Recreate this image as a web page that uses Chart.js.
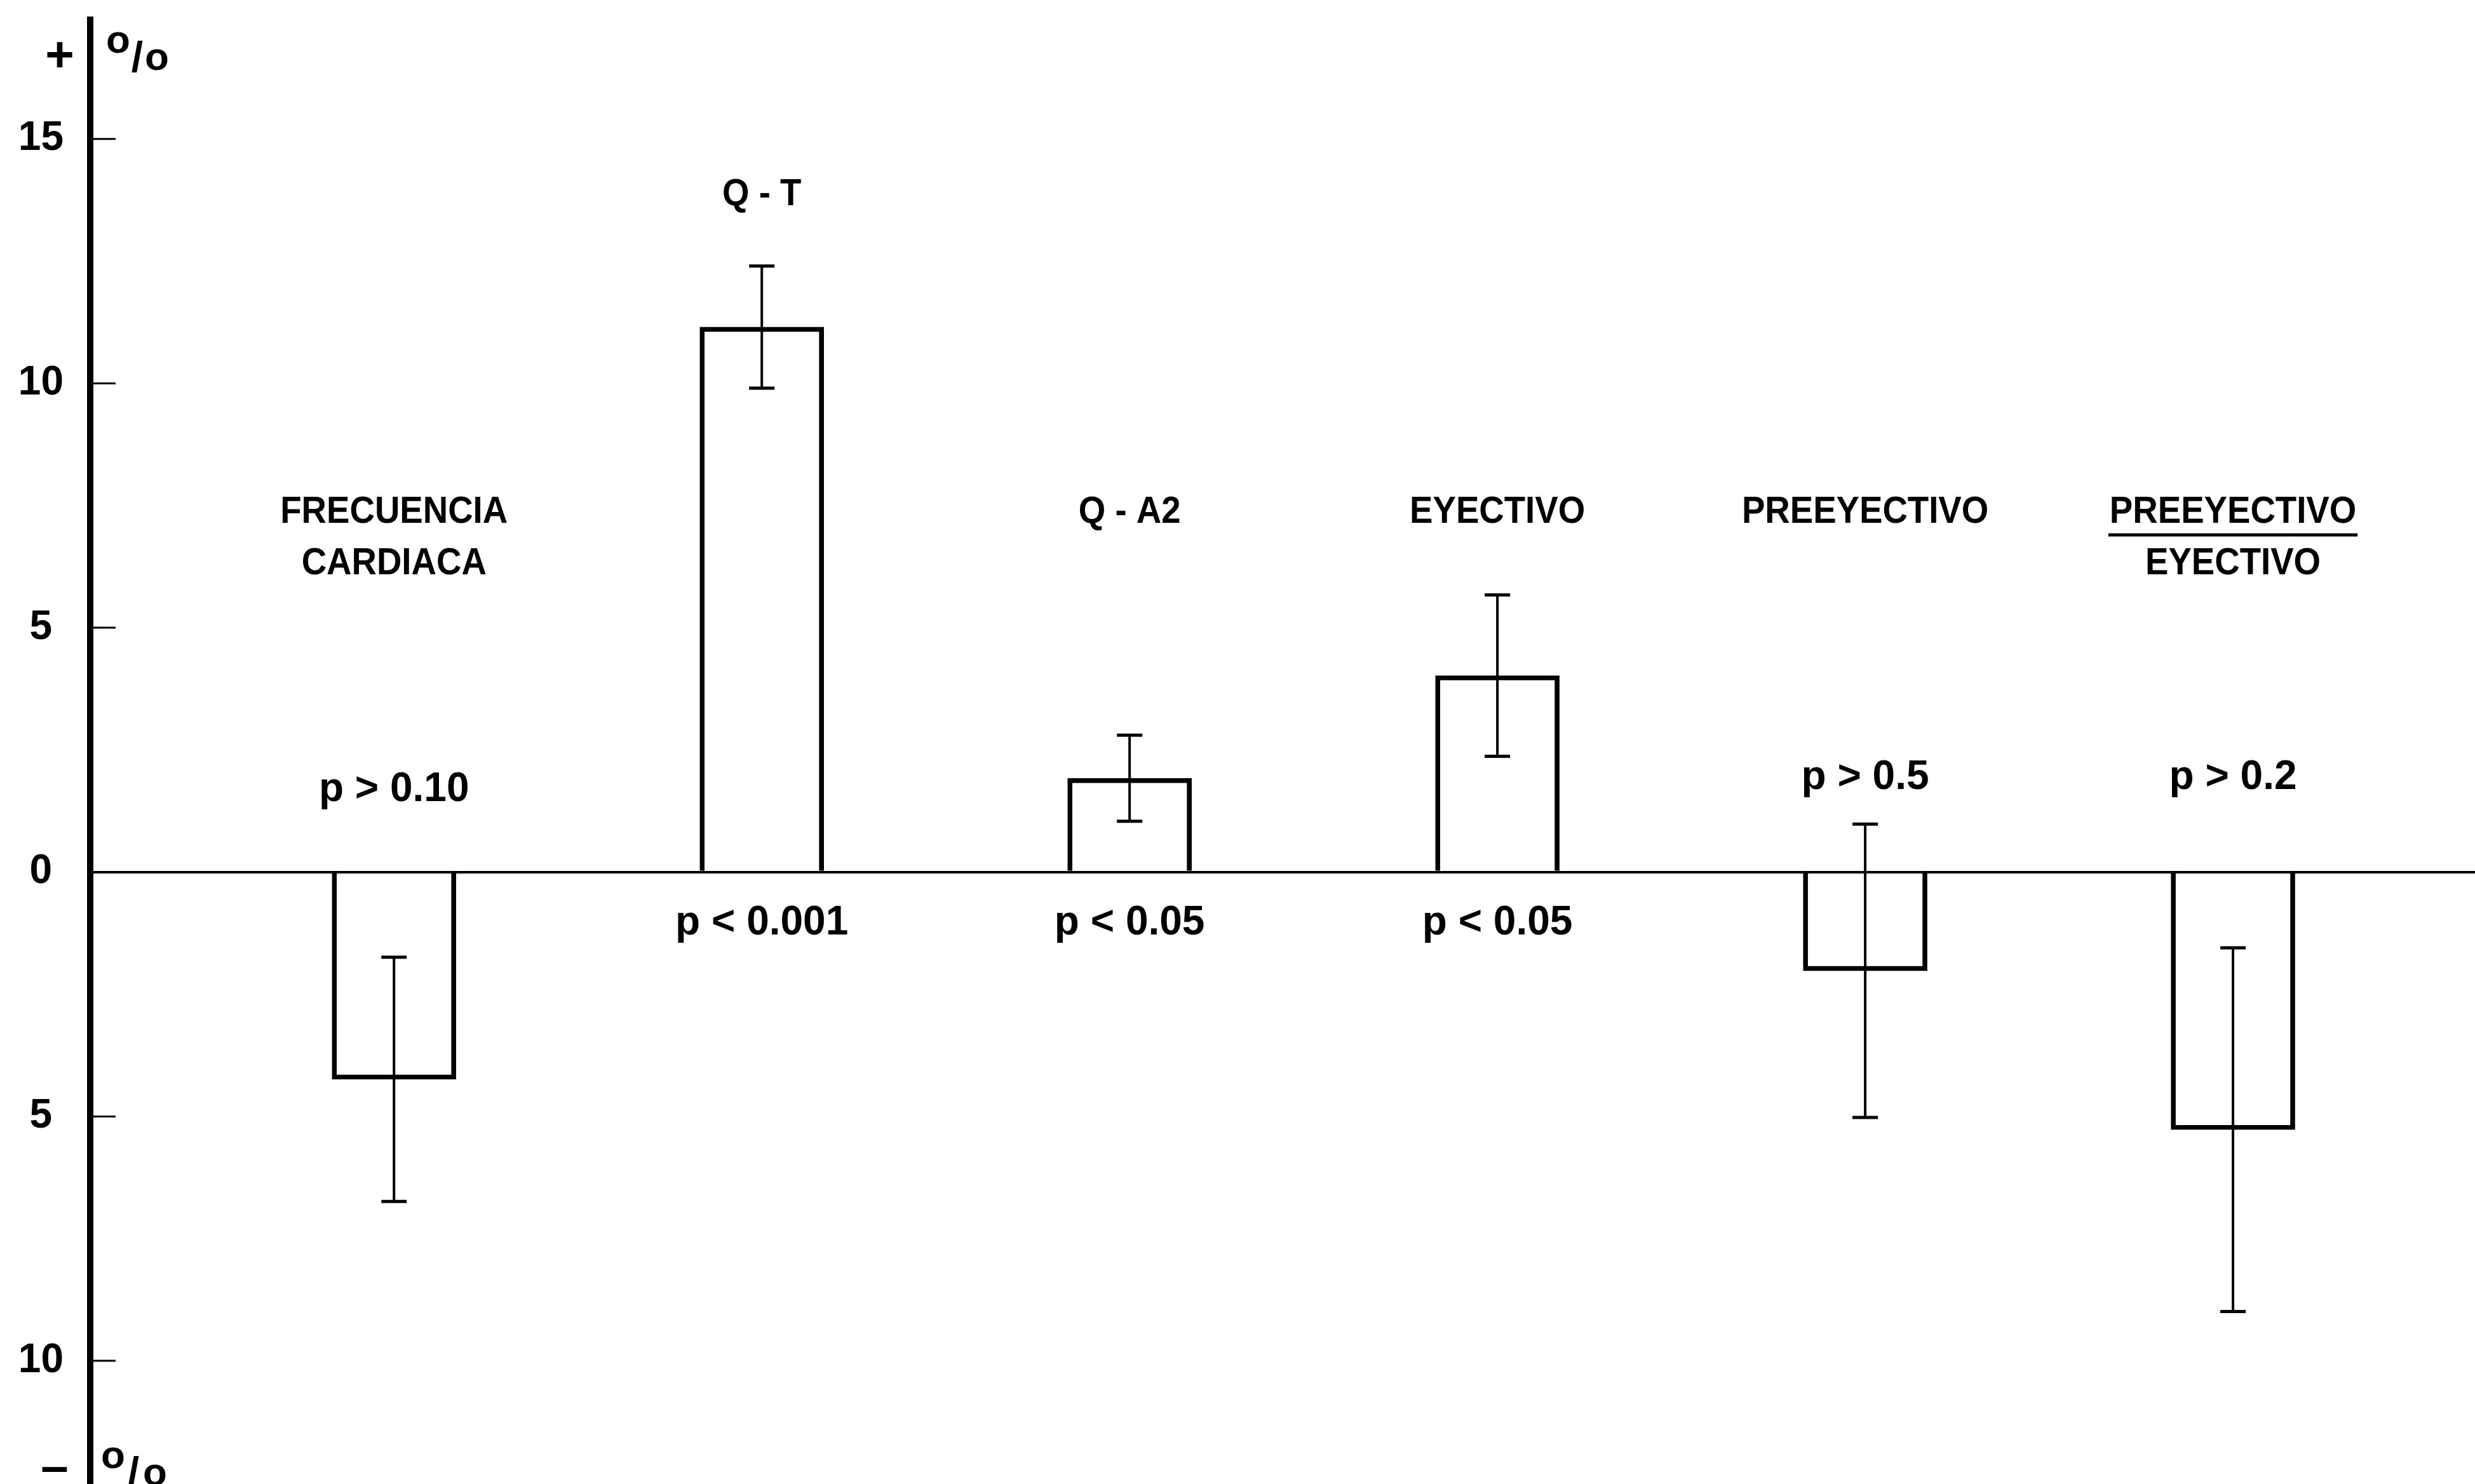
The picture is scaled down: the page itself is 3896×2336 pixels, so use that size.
<!DOCTYPE html>
<html>
<head>
<meta charset="utf-8">
<script src="https://cdn.jsdelivr.net/npm/chart.js@4/dist/chart.umd.min.js"></script>
<style>
html,body{margin:0;padding:0;background:#fff;}
canvas{display:block;}
</style>
</head>
<body>
<canvas id="c" width="3896" height="2336"></canvas>
<script>
// ---- data ----
const categories = ['FRECUENCIA CARDIACA', 'Q - T', 'Q - A2', 'EYECTIVO', 'PREEYECTIVO', 'PREEYECTIVO / EYECTIVO'];
const categoryPositions = [1, 2, 3, 4, 5, 6];
const changePct = [-4.24, 11.15, 1.92, 4.02, -2.02, -5.27];
const errorPct = [2.5, 1.25, 0.88, 1.65, 3.0, 3.72];
const pLabels = ['p > 0.10', 'p < 0.001', 'p < 0.05', 'p < 0.05', 'p > 0.5', 'p > 0.2'];
const nameLines = [['FRECUENCIA', 'CARDIACA'], ['Q - T'], ['Q - A2'], ['EYECTIVO'], ['PREEYECTIVO'], ['PREEYECTIVO', 'EYECTIVO']];
const yTickValues = [-10, -5, 0, 5, 10, 15];

const FAMILY = '"Liberation Sans", Arial, Helvetica, sans-serif';

function drawText(ctx, text, cx, capCenterY, size, scaleX) {
  ctx.save();
  ctx.font = 'bold ' + size + 'px ' + FAMILY;
  ctx.textAlign = 'center';
  ctx.textBaseline = 'alphabetic';
  ctx.translate(cx, capCenterY + 0.36 * size);
  ctx.scale(scaleX, 1);
  ctx.fillStyle = '#000';
  ctx.fillText(text, 0, 0);
  const w = ctx.measureText(text).width * scaleX;
  ctx.restore();
  return w;
}

const bgPlugin = {
  id: 'bg',
  beforeDraw(chart) {
    const ctx = chart.ctx;
    ctx.save();
    ctx.fillStyle = '#fff';
    ctx.fillRect(0, 0, chart.width, chart.height);
    ctx.restore();
  }
};

const decorPlugin = {
  id: 'decor',
  afterDatasetsDraw(chart, args, opts) {
    const ctx = chart.ctx;
    const ys = chart.scales.y;
    const ca = chart.chartArea;
    const meta = chart.getDatasetMeta(0);

    // inward tick marks
    ctx.save();
    ctx.strokeStyle = '#000';
    ctx.lineWidth = 3;
    ys.ticks.forEach(t => {
      if (t.value === 0) return;
      const py = ys.getPixelForValue(t.value);
      ctx.beginPath();
      ctx.moveTo(ca.left, py);
      ctx.lineTo(ca.left + 40, py);
      ctx.stroke();
    });
    ctx.restore();

    // error bars
    ctx.save();
    ctx.strokeStyle = '#000';
    meta.data.forEach((bar, i) => {
      const x = bar.x;
      const yHi = ys.getPixelForValue(changePct[i] + errorPct[i]);
      const yLo = ys.getPixelForValue(changePct[i] - errorPct[i]);
      ctx.lineWidth = 4;
      ctx.beginPath();
      ctx.moveTo(x, yHi); ctx.lineTo(x, yLo);
      ctx.stroke();
      ctx.lineWidth = 5;
      ctx.beginPath();
      ctx.moveTo(x - 20, yHi); ctx.lineTo(x + 20, yHi);
      ctx.moveTo(x - 20, yLo); ctx.lineTo(x + 20, yLo);
      ctx.stroke();
    });
    ctx.restore();

    // category names and p-values
    meta.data.forEach((bar, i) => {
      const x = bar.x;
      const lines = nameLines[i];
      const lvl = opts.nameLevels[i];
      const y1 = ys.getPixelForValue(lvl);
      const w1 = drawText(ctx, lines[0], x, y1, 60, 0.91);
      if (lines.length > 1) {
        const y2 = ys.getPixelForValue(lvl - opts.lineGap);
        drawText(ctx, lines[1], x, y2, 60, 0.91);
        if (opts.fraction[i]) {
          const yf = ys.getPixelForValue(lvl - opts.lineGap / 2);
          ctx.save();
          ctx.strokeStyle = '#000';
          ctx.lineWidth = 5;
          ctx.beginPath();
          ctx.moveTo(x - w1 / 2 - 2, yf);
          ctx.lineTo(x + w1 / 2 + 2, yf);
          ctx.stroke();
          ctx.restore();
        }
      }
      drawText(ctx, pLabels[i], x, ys.getPixelForValue(opts.pLevels[i]), 64, 1);
    });

    // axis sign / percent marks
    ctx.save();
    ctx.fillStyle = '#000';
    ctx.textAlign = 'center';
    ctx.textBaseline = 'alphabetic';
    ctx.font = 'bold 78px ' + FAMILY;
    ctx.fillText('+', 94, 112);
    ctx.fillText('\u2013', 86, 2334);
    ctx.font = 'bold 62px ' + FAMILY;
    ctx.fillText('o', 186, 83);
    ctx.fillText('o', 247, 110);
    ctx.fillText('o', 178, 2311);
    ctx.fillText('o', 244, 2338);
    ctx.font = 'bold 66px ' + FAMILY;
    ctx.fillText('/', 216, 112);
    ctx.fillText('/', 210, 2340);
    ctx.restore();
  }
};

new Chart(document.getElementById('c'), {
  type: 'bar',
  data: {
    labels: categories,
    datasets: [{
      data: categoryPositions.map((x, i) => ({ x: x, y: changePct[i] })),
      backgroundColor: 'rgba(255,255,255,0)',
      borderColor: '#000',
      borderWidth: 7,
      barThickness: 195
    }]
  },
  options: {
    responsive: false,
    animation: false,
    devicePixelRatio: 1,
    layout: { padding: { top: 31, left: 0, right: 0, bottom: 0 } },
    plugins: {
      legend: { display: false },
      tooltip: { enabled: false },
      decor: {
        nameLevels: [7.43, 13.93, 7.43, 7.43, 7.43, 7.43],
        lineGap: 1.06,
        fraction: [false, false, false, false, false, true],
        pLevels: [1.75, -0.98, -0.98, -0.98, 2.0, 2.0]
      }
    },
    scales: {
      x: {
        type: 'linear',
        min: 0.174,
        max: 6.658,
        offset: false,
        display: false,
        grid: { display: false, offset: false },
        ticks: { stepSize: 1, includeBounds: false },
        afterFit: s => { s.height = 0; s.paddingLeft = 0; s.paddingRight = 0; s.paddingTop = 0; s.paddingBottom = 0; }
      },
      y: {
        min: -12.52,
        max: 17.44,
        afterBuildTicks: s => { s.ticks = yTickValues.map(v => ({ value: v })); },
        afterFit: s => { s.width = 142; s.paddingTop = 0; s.paddingBottom = 0; },
        border: { display: true, color: '#000', width: 10 },
        grid: {
          drawTicks: false,
          color: c => (c.tick && c.tick.value === 0) ? '#000' : 'rgba(0,0,0,0)',
          lineWidth: c => (c.tick && c.tick.value === 0) ? 4 : 0
        },
        ticks: {
          crossAlign: 'center',
          padding: 42,
          color: '#000',
          font: { family: FAMILY, size: 64, weight: 'bold' },
          callback: v => String(Math.abs(v))
        }
      }
    }
  },
  plugins: [bgPlugin, decorPlugin]
});
</script>
</body>
</html>
